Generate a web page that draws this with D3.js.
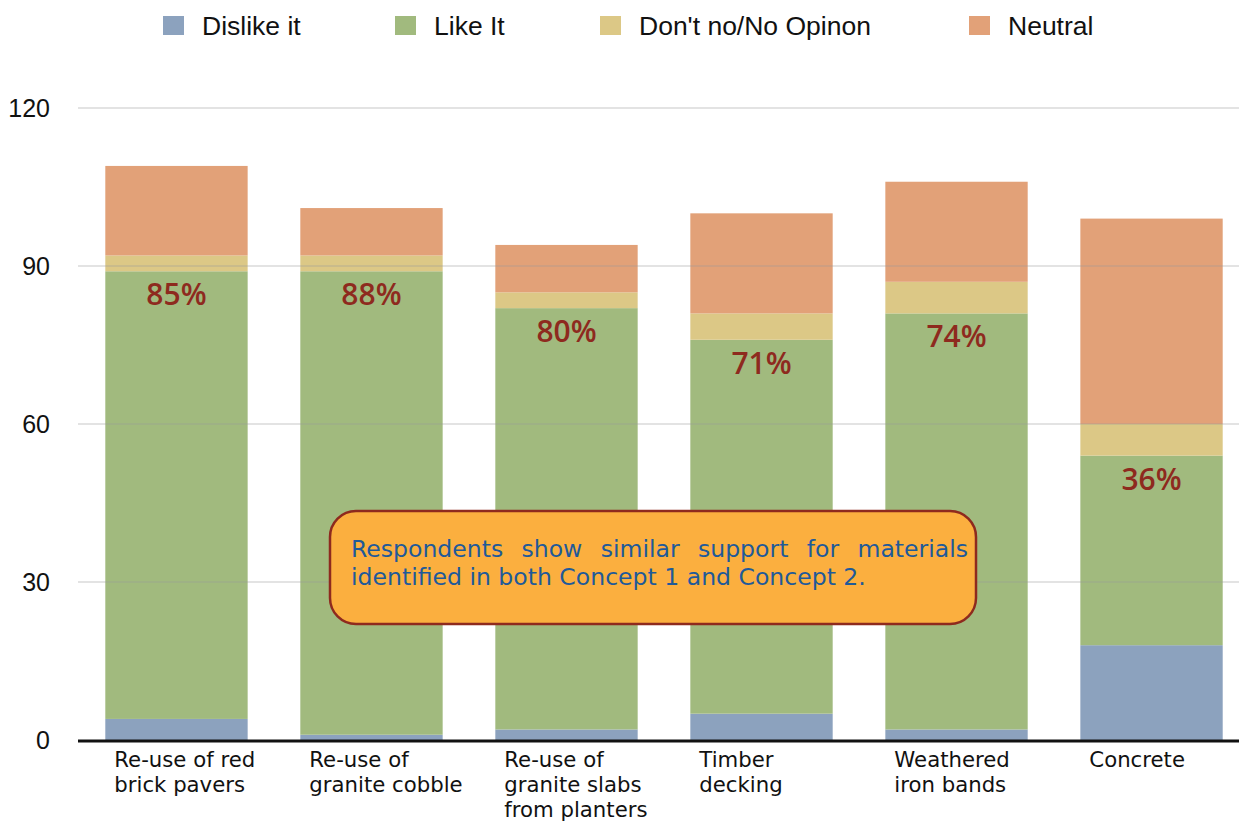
<!DOCTYPE html>
<html>
<head>
<meta charset="utf-8">
<script src="https://cdn.jsdelivr.net/npm/d3@7"></script>
<style>
  body { margin: 0; background: #fff; }
  svg { display: block; }
</style>
</head>
<body>
<script>
var w = 1239,
    h = 822;

var categories = [
  ["Re-use of red", "brick pavers"],
  ["Re-use of", "granite cobble"],
  ["Re-use of", "granite slabs", "from planters"],
  ["Timber", "decking"],
  ["Weathered", "iron bands"],
  ["Concrete"]
];
var seriesNames = ["Dislike it", "Like It", "Don't no/No Opinon", "Neutral"];
var dislike = [4, 1, 2, 5, 2, 18];
var like = [85, 88, 80, 71, 79, 36];
var dontKnow = [3, 3, 3, 5, 6, 6];
var neutral = [17, 9, 9, 19, 19, 39];
var pctLabels = ["85%", "88%", "80%", "71%", "74%", "36%"];
var yTicks = [0, 30, 60, 90, 120];
var colors = ["#8ca2be", "#a1ba7e", "#dcc886", "#e2a178"];
var note = ["Respondents show similar support for materials",
            "identified in both Concept 1 and Concept 2."];

var rows = categories.map(function(c, i) {
  return { key: i, name: c, d0: dislike[i], d1: like[i], d2: dontKnow[i], d3: neutral[i] };
});

var layers = d3.stack().keys(["d0", "d1", "d2", "d3"])(rows);

var x = d3.scaleBand()
    .domain(rows.map(function(d) { return d.key; }))
    .range([78, 1250])
    .paddingInner(0.27)
    .paddingOuter(0.14);

var y = d3.scaleLinear().domain([0, 120]).range([740, 108]);

var svg = d3.select("body").append("svg")
    .attr("width", w)
    .attr("height", h);

var sans = "Open Sans, Noto Sans, sans-serif";
var wide = "DejaVu Sans, sans-serif";

// legend
var legend = svg.append("g");
var legendX = [163, 395, 600, 969];
seriesNames.forEach(function(n, i) {
  legend.append("rect")
    .attr("x", legendX[i]).attr("y", 16)
    .attr("width", 21).attr("height", 19)
    .attr("fill", colors[i]);
  legend.append("text")
    .attr("x", legendX[i] + 39).attr("y", 35)
    .attr("font-family", "Liberation Sans, Arial, sans-serif")
    .attr("font-size", 26.5)
    .attr("fill", "#111")
    .text(n);
});

// bars
svg.append("g").selectAll("g")
  .data(layers)
  .enter().append("g")
    .attr("fill", function(d, i) { return colors[i]; })
  .selectAll("rect")
  .data(function(d) { return d; })
  .enter().append("rect")
    .attr("x", function(d) { return x(d.data.key); })
    .attr("y", function(d) { return y(d[1]); })
    .attr("width", x.bandwidth())
    .attr("height", function(d) { return y(d[0]) - y(d[1]); });

// gridlines, faint, over the bars
svg.append("g").selectAll("line")
  .data(yTicks.filter(function(t) { return t > 0; }))
  .enter().append("line")
    .attr("x1", 78).attr("x2", w)
    .attr("y1", function(d) { return y(d); })
    .attr("y2", function(d) { return y(d); })
    .attr("stroke", "#999")
    .attr("stroke-opacity", 0.55)
    .attr("stroke-width", 1);

// y labels
svg.append("g").selectAll("text")
  .data(yTicks)
  .enter().append("text")
    .attr("x", 50)
    .attr("y", function(d) { return y(d); })
    .attr("dy", "0.36em")
    .attr("text-anchor", "end")
    .attr("font-family", "Liberation Sans, Arial, sans-serif")
    .attr("font-size", 25)
    .attr("fill", "#111")
    .text(function(d) { return d; });

// baseline
svg.append("line")
  .attr("x1", 78).attr("x2", w)
  .attr("y1", y(0) + 1).attr("y2", y(0) + 1)
  .attr("stroke", "#111")
  .attr("stroke-width", 3);

// percentages
svg.append("g").selectAll("text")
  .data(rows)
  .enter().append("text")
    .attr("x", function(d) { return x(d.key) + x.bandwidth() / 2; })
    .attr("y", function(d) { return y(d.d0 + d.d1) + 34; })
    .attr("text-anchor", "middle")
    .attr("font-family", sans)
    .attr("font-size", 30)
    .attr("font-weight", 600)
    .attr("fill", "#8e2a1e")
    .text(function(d, i) { return pctLabels[i]; });

// category labels
var cat = svg.append("g").selectAll("text")
  .data(rows)
  .enter().append("text")
    .attr("x", function(d) { return x(d.key) + 9; })
    .attr("y", 767)
    .attr("font-family", wide)
    .attr("font-size", 18)
    .attr("fill", "#111");
cat.selectAll("tspan")
  .data(function(d) { return d.name; })
  .enter().append("tspan")
    .attr("x", function() { return d3.select(this.parentNode).attr("x"); })
    .attr("dy", function(d, i) { return i ? 25 : 0; })
    .text(function(d) { return d; });

// fit label font so "Re-use of red" is about 141px wide
var first = cat.filter(function(d) { return d.key === 0; }).select("tspan").node();
cat.attr("font-size", 18 * 141 / first.getComputedTextLength());

// callout
var box = svg.append("g");
box.append("rect")
  .attr("x", 330).attr("y", 511)
  .attr("width", 646).attr("height", 113)
  .attr("rx", 26).attr("ry", 26)
  .attr("fill", "#fbaf3f")
  .attr("stroke", "#8e2a1e")
  .attr("stroke-width", 2.5);

var line2 = box.append("text")
  .attr("x", 351).attr("y", 585)
  .attr("font-family", wide)
  .attr("font-size", 19)
  .attr("fill", "#1f5a99")
  .text(note[1]);
var noteSize = 19 * 515 / line2.node().getComputedTextLength();
line2.attr("font-size", noteSize);

// first line justified: spread the words between 351 and 968
var words = note[0].split(" ");
var probe = box.append("text")
  .attr("font-family", wide)
  .attr("font-size", noteSize);
var widths = words.map(function(t) {
  probe.text(t);
  return probe.node().getComputedTextLength();
});
probe.remove();
var gap = (968 - 351 - d3.sum(widths)) / (words.length - 1);
var cx = 351;
words.forEach(function(t, i) {
  box.append("text")
    .attr("x", cx).attr("y", 557)
    .attr("font-family", wide)
    .attr("font-size", noteSize)
    .attr("fill", "#1f5a99")
    .text(t);
  cx += widths[i] + gap;
});
</script>
</body>
</html>
